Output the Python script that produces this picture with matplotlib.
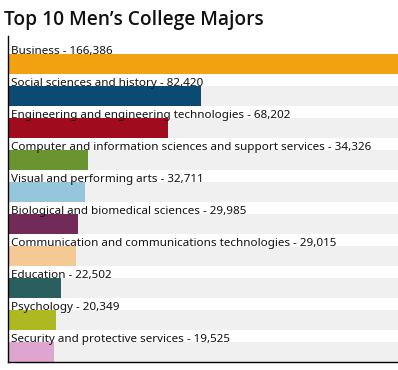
import numpy as np
import matplotlib
matplotlib.use('Agg')
import matplotlib.pyplot as plt

majors = ['Business', 'Social sciences and history', 'Engineering and engineering technologies',
          'Computer and information sciences and support services', 'Visual and performing arts',
          'Biological and biomedical sciences', 'Communication and communications technologies',
          'Education', 'Psychology', 'Security and protective services']
counts = [166386, 82420, 68202, 34326, 32711, 29985, 29015, 22502, 20349, 19525]
colors = ['#f2a20f', '#0b4a72', '#a00c1d', '#6a9430', '#95c6de', '#722b59',
          '#f4c994', '#2b5e5f', '#aeb820', '#dea5d1']

plt.rcParams['font.family'] = ['Noto Sans', 'DejaVu Sans']

fig = plt.figure(figsize=(3.98, 3.70), dpi=100)
ax = fig.add_axes([8/398, 8/370, 390/398, 326/370])

y = np.arange(len(majors))
xmax = max(counts)
# grey track behind each bar
ax.barh(y, [xmax]*len(majors), height=0.625, color='#f0f0f0', zorder=1)
ax.barh(y, counts, height=0.625, color=colors, zorder=2)

for i, (m, c) in enumerate(zip(majors, counts)):
    ax.text(xmax*0.008, i - 0.32, f'{m} - {c:,}', fontsize=8.4, va='baseline', ha='left',
            color='#111111', zorder=3)

ax.set_xlim(0, xmax)
ax.set_ylim(9.3125, -0.875)
ax.set_xticks([])
ax.set_yticks([])
for s in ['top', 'right']:
    ax.spines[s].set_visible(False)
ax.spines['left'].set_linewidth(1.0)
ax.spines['bottom'].set_linewidth(1.0)

fig.text(4/398, 1 - 25/370, 'Top 10 Men\u2019s College Majors', fontsize=13.8, fontweight='semibold',
         family=['Open Sans', 'DejaVu Sans'], ha='left', va='baseline', color='#111111')

fig.savefig('out.png', dpi=100)
